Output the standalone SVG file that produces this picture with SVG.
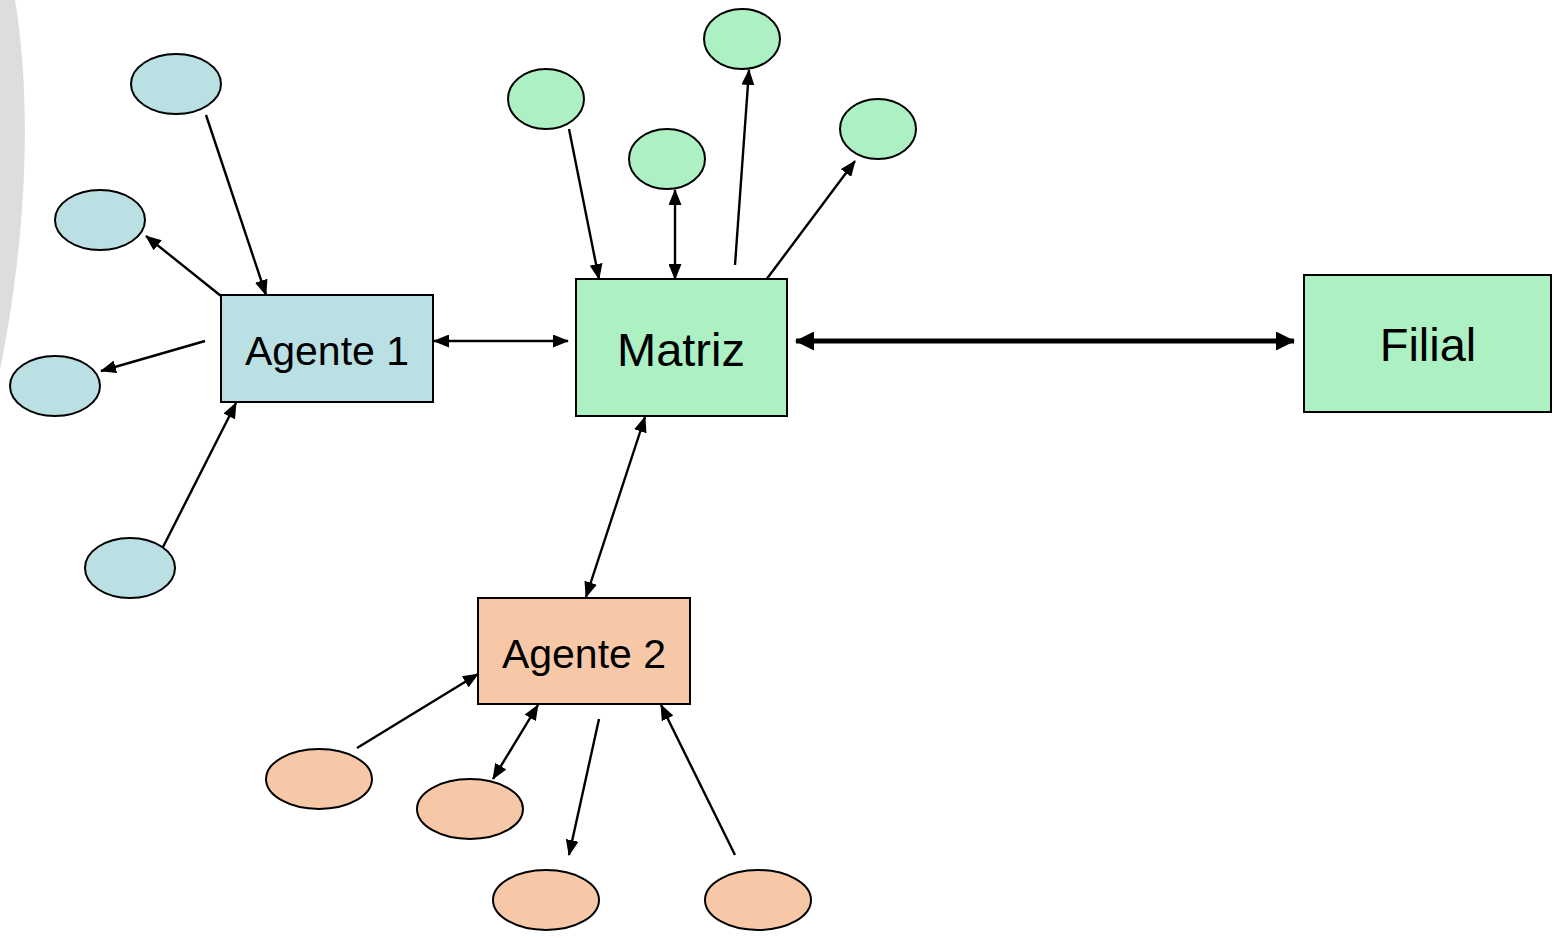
<svg xmlns="http://www.w3.org/2000/svg" width="1556" height="938" viewBox="0 0 1556 938">
  <style>
    .box { stroke: #000; stroke-width: 2; }
    .oval { stroke: #000; stroke-width: 2; }
    .blue { fill: #BAE0E3; }
    .green { fill: #ADF0C3; }
    .orange { fill: #F7C8A8; }
    .label { font-family: "Liberation Sans", Arial, sans-serif; fill: #000; text-anchor: middle; }
    .link { stroke: #000; stroke-width: 2.4; fill: none; }
    .thick { stroke: #000; stroke-width: 5; fill: none; }
  </style>
  <defs>
    <marker id="arrow" viewBox="0 0 16 13" refX="15" refY="6.5" markerWidth="16" markerHeight="13" markerUnits="userSpaceOnUse" orient="auto-start-reverse">
      <path d="M0,0 L16,6.5 L0,13 z" fill="#000"/>
    </marker>
    <marker id="arrowBig" viewBox="0 0 19 19" refX="18" refY="9.5" markerWidth="19" markerHeight="19" markerUnits="userSpaceOnUse" orient="auto-start-reverse">
      <path d="M0,0 L19,9.5 L0,19 z" fill="#000"/>
    </marker>
  </defs>

  <rect width="1556" height="938" fill="#fff"/>
  <!-- decorative band at the left edge -->
  <path d="M0,0 L15,0 C30,90 30,220 0,370 Z" fill="#DDDDDD"/>

  <g id="connectors">
    <!-- Agente 1 satellites -->
    <line class="link" x1="206" y1="115" x2="266" y2="295" marker-end="url(#arrow)"/>
    <line class="link" x1="221" y1="296" x2="146" y2="236" marker-end="url(#arrow)"/>
    <line class="link" x1="205" y1="341" x2="101" y2="371" marker-end="url(#arrow)"/>
    <line class="link" x1="161" y1="551" x2="236" y2="403" marker-end="url(#arrow)"/>
    <!-- Agente 1 to Matriz -->
    <line class="link" x1="434" y1="341" x2="568" y2="341" marker-start="url(#arrow)" marker-end="url(#arrow)"/>
    <!-- Matriz satellites -->
    <line class="link" x1="569" y1="129" x2="599" y2="279" marker-end="url(#arrow)"/>
    <line class="link" x1="675" y1="190" x2="675" y2="279" marker-start="url(#arrow)" marker-end="url(#arrow)"/>
    <line class="link" x1="735" y1="265" x2="749" y2="70" marker-end="url(#arrow)"/>
    <line class="link" x1="766" y1="280" x2="855" y2="161" marker-end="url(#arrow)"/>
    <!-- Matriz to Filial -->
    <line class="thick" x1="796" y1="341" x2="1294" y2="341" marker-start="url(#arrowBig)" marker-end="url(#arrowBig)"/>
    <!-- Matriz to Agente 2 -->
    <line class="link" x1="645" y1="417" x2="586" y2="597" marker-start="url(#arrow)" marker-end="url(#arrow)"/>
    <!-- Agente 2 satellites -->
    <line class="link" x1="357" y1="748" x2="478" y2="674" marker-end="url(#arrow)"/>
    <line class="link" x1="538" y1="705" x2="493" y2="779" marker-start="url(#arrow)" marker-end="url(#arrow)"/>
    <line class="link" x1="599" y1="719" x2="569" y2="855" marker-end="url(#arrow)"/>
    <line class="link" x1="735" y1="855" x2="661" y2="705" marker-end="url(#arrow)"/>
  </g>

  <g id="agente1-clients">
    <ellipse id="a1c1" class="oval blue" cx="176" cy="84" rx="45" ry="30"/>
    <ellipse id="a1c2" class="oval blue" cx="100" cy="220" rx="45" ry="30"/>
    <ellipse id="a1c3" class="oval blue" cx="55" cy="386" rx="45" ry="30"/>
    <ellipse id="a1c4" class="oval blue" cx="130" cy="568" rx="45" ry="30"/>
  </g>

  <g id="matriz-clients">
    <ellipse id="mc1" class="oval green" cx="546" cy="99" rx="38" ry="30"/>
    <ellipse id="mc2" class="oval green" cx="667" cy="159" rx="38" ry="30"/>
    <ellipse id="mc3" class="oval green" cx="742" cy="39" rx="38" ry="30"/>
    <ellipse id="mc4" class="oval green" cx="878" cy="129" rx="38" ry="30"/>
  </g>

  <g id="agente2-clients">
    <ellipse id="a2c1" class="oval orange" cx="319" cy="779" rx="53" ry="30"/>
    <ellipse id="a2c2" class="oval orange" cx="470" cy="809" rx="53" ry="30"/>
    <ellipse id="a2c3" class="oval orange" cx="546" cy="900" rx="53" ry="30"/>
    <ellipse id="a2c4" class="oval orange" cx="758" cy="900" rx="53" ry="30"/>
  </g>

  <g id="agente1">
    <rect class="box blue" x="221" y="295" width="212" height="107"/>
    <text class="label" x="327" y="365" font-size="41">Agente 1</text>
  </g>

  <g id="matriz">
    <rect class="box green" x="576" y="279" width="211" height="137"/>
    <text class="label" x="681" y="366" font-size="47">Matriz</text>
  </g>

  <g id="filial">
    <rect class="box green" x="1304" y="275" width="247" height="137"/>
    <text class="label" x="1428" y="361" font-size="47">Filial</text>
  </g>

  <g id="agente2">
    <rect class="box orange" x="478" y="598" width="212" height="106"/>
    <text class="label" x="584" y="668" font-size="41">Agente 2</text>
  </g>
</svg>
